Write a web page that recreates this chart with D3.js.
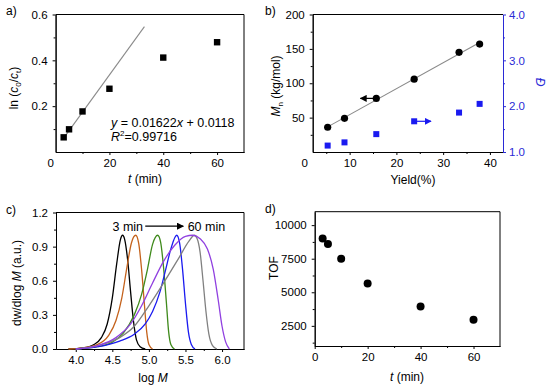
<!DOCTYPE html>
<html>
<head>
<meta charset="utf-8">
<script src="https://cdn.jsdelivr.net/npm/d3@7"></script>
<style>
  body { margin: 0; background: #fff; }
  svg { display: block; }
</style>
</head>
<body>
<script>
// ---- a) 动力学数据
var timeA = [3, 5, 10, 20, 40, 60]
var lnRatioA = [0.064, 0.099, 0.177, 0.276, 0.412, 0.479]
var fitSlopeA = 0.01622, fitInterceptA = 0.0118
var fitRangeA = [3, 33]

// ---- b) Mn / Đ vs yield
var yieldB = [5.3, 8.9, 15.7, 23.8, 33.4, 37.8]
var mnB = [36, 49, 78, 106, 145, 157]
var dispB = [1.14, 1.21, 1.39, 1.67, 1.86, 2.05]

// ---- c) GPC 曲线 [logM, dw/dlogM]
var gpcTimes = ['3 min', '5 min', '10 min', '20 min', '40 min', '60 min']
var gpcCurves = [
  [[3.9,0],[4.1,0.01],[4.25,0.04],[4.35,0.1],[4.43,0.22],[4.5,0.45],[4.56,0.75],[4.61,0.96],[4.64,1.0],[4.67,0.96],[4.71,0.78],[4.75,0.5],[4.79,0.24],[4.83,0.08],[4.88,0.02],[4.95,0]],
  [[3.9,0],[4.1,0.01],[4.3,0.04],[4.45,0.12],[4.55,0.25],[4.63,0.45],[4.7,0.72],[4.76,0.93],[4.82,1.0],[4.86,0.93],[4.9,0.7],[4.94,0.38],[4.97,0.15],[5.0,0.04],[5.05,0]],
  [[4.0,0],[4.3,0.02],[4.5,0.06],[4.65,0.14],[4.8,0.3],[4.9,0.48],[4.98,0.7],[5.05,0.92],[5.12,1.0],[5.16,0.94],[5.2,0.72],[5.24,0.4],[5.27,0.15],[5.3,0.04],[5.35,0]],
  [[4.0,0],[4.3,0.02],[4.6,0.07],[4.8,0.13],[4.95,0.22],[5.05,0.33],[5.15,0.5],[5.23,0.7],[5.3,0.88],[5.38,1.0],[5.42,0.93],[5.46,0.7],[5.5,0.4],[5.54,0.15],[5.58,0.04],[5.63,0]],
  [[4.0,0],[4.3,0.03],[4.6,0.1],[4.8,0.2],[5.0,0.38],[5.2,0.58],[5.4,0.79],[5.55,0.95],[5.62,1.0],[5.66,0.97],[5.7,0.85],[5.74,0.6],[5.78,0.33],[5.82,0.13],[5.87,0.03],[5.93,0]],
  [[4.0,0],[4.3,0.03],[4.55,0.1],[4.75,0.22],[4.9,0.38],[5.05,0.58],[5.2,0.77],[5.35,0.91],[5.5,0.99],[5.6,1.0],[5.7,0.97],[5.8,0.88],[5.88,0.7],[5.95,0.42],[6.0,0.2],[6.05,0.06],[6.1,0]]
]
var gpcColors = ['#000000', '#c4621c', '#3f8a1c', '#1a1af0', '#808080', '#9040e0']

// ---- d) TOF
var timeD = [3, 5, 10, 20, 40, 60]
var tofD = [9000, 8600, 7500, 5650, 3950, 2950]

var W = 550, H = 391
var FS = 12        // 标题字号
var TS = 11.5      // 刻度字号
var FONT = "'Liberation Sans', Arial, sans-serif"
var BLUE = '#2a2ad6'

var svg = d3.select('body').append('svg')
  .attr('width', W).attr('height', H)
  .style('font-family', FONT)

var defs = svg.append('defs')
function addArrow(id, color) {
  defs.append('marker')
    .attr('id', id).attr('viewBox', '0 0 10 10')
    .attr('refX', 9).attr('refY', 5)
    .attr('markerWidth', 7).attr('markerHeight', 7)
    .attr('markerUnits', 'userSpaceOnUse')
    .attr('orient', 'auto')
    .append('path').attr('d', 'M0,0 L10,5 L0,10 z').attr('fill', color)
}
addArrow('arrK', '#000')
addArrow('arrB', '#1a1af0')

// 坐标轴框
function styleAxis(sel, color) {
  sel.attr('font-size', TS).attr('font-family', FONT).attr('color', color || '#000')
  sel.selectAll('path, line').attr('stroke-width', 1)
}
function frame(x, y, o) {
  var g = svg.append('g')
  var x0 = x.range()[0], x1 = x.range()[1], yb = y.range()[0], yt = y.range()[1]
  g.append('g').attr('transform', 'translate(0,' + yb + ')')
    .call(d3.axisBottom(x).tickValues(o.xTicks).tickSize(3).tickPadding(4).tickSizeOuter(0).tickFormat(o.xFmt))
    .call(styleAxis)
  g.append('g').attr('transform', 'translate(0,' + yb + ')')
    .call(d3.axisBottom(x).tickValues(o.xMinor).tickSize(2).tickSizeOuter(0).tickFormat(''))
    .call(styleAxis)
  g.append('g').attr('transform', 'translate(' + x0 + ',0)')
    .call(d3.axisLeft(y).tickValues(o.yTicks).tickSize(3).tickPadding(5).tickSizeOuter(0).tickFormat(o.yFmt))
    .call(styleAxis)
  g.append('g').attr('transform', 'translate(' + x0 + ',0)')
    .call(d3.axisLeft(y).tickValues(o.yMinor).tickSize(2).tickSizeOuter(0).tickFormat(''))
    .call(styleAxis)
  g.append('line').attr('x1', x0).attr('x2', x1).attr('y1', yt).attr('y2', yt).attr('stroke', '#000')
  if (!o.noRight) {
    g.append('line').attr('x1', x1).attr('x2', x1).attr('y1', yt).attr('y2', yb).attr('stroke', '#000')
  }
  return g
}
function label(txt, x, y, anchor, size) {
  return svg.append('text').attr('x', x).attr('y', y).attr('font-size', size || FS)
    .attr('text-anchor', anchor || 'start').text(txt)
}
function vLabel(x, y, rot) {
  return svg.append('text').attr('transform', 'translate(' + x + ',' + y + ') rotate(' + rot + ')')
    .attr('text-anchor', 'middle').attr('dy', '0.35em').attr('font-size', FS)
}
function tLabel(x, y) {
  var t = svg.append('text').attr('x', x).attr('y', y).attr('text-anchor', 'middle').attr('font-size', FS)
  t.append('tspan').attr('font-style', 'italic').text('t')
  t.append('tspan').text(' (min)')
}

// ================= a)
var xA = d3.scaleLinear().domain([0, 70]).range([55.6, 244])
var yA = d3.scaleLinear().domain([0, 0.6]).range([152, 14.5])
frame(xA, yA, {
  xTicks: [20, 40, 60], xMinor: [10, 30, 50], xFmt: d3.format('d'),
  yTicks: [0.2, 0.4, 0.6], yMinor: [0.1, 0.3, 0.5], yFmt: d3.format('.1f')
})
label('0', xA(0) - 5, 167, 'middle', TS)
svg.append('line')
  .attr('x1', xA(fitRangeA[0])).attr('y1', yA(fitSlopeA * fitRangeA[0] + fitInterceptA))
  .attr('x2', xA(fitRangeA[1])).attr('y2', yA(fitSlopeA * fitRangeA[1] + fitInterceptA))
  .attr('stroke', '#8a8a8a').attr('stroke-width', 1.1)
svg.append('g').selectAll('rect').data(timeA).enter().append('rect')
  .attr('x', function(d) { return xA(d) - 3.2 })
  .attr('y', function(d, i) { return yA(lnRatioA[i]) - 3.2 })
  .attr('width', 6.4).attr('height', 6.4).attr('fill', '#000')
var eq = label('', xA(20.6), yA(0.107), 'start', 12.5)
eq.append('tspan').attr('font-style', 'italic').text('y')
eq.append('tspan').text(' = 0.01622')
eq.append('tspan').attr('font-style', 'italic').text('x')
eq.append('tspan').text(' + 0.0118')
var r2 = label('', xA(20.6), yA(0.046), 'start', 12.5)
r2.append('tspan').attr('font-style', 'italic').text('R')
r2.append('tspan').attr('font-size', 8).attr('dy', -5).text('2')
r2.append('tspan').attr('dy', 5).text('=0.99716')
tLabel(145, 183)
var lnL = vLabel(14, 88, -90)
lnL.append('tspan').text('ln (')
lnL.append('tspan').attr('font-style', 'italic').text('c')
lnL.append('tspan').attr('font-size', 8).attr('dy', 3).text('0')
lnL.append('tspan').attr('dy', -3).text('/')
lnL.append('tspan').attr('font-style', 'italic').text('c')
lnL.append('tspan').attr('font-size', 8).attr('dy', 3).text('t')
lnL.append('tspan').attr('dy', -3).text(')')
label('a)', 6, 15)

// ================= b)
var xB = d3.scaleLinear().domain([2.1, 42.8]).range([312.7, 503])
var yB = d3.scaleLinear().domain([0, 200]).range([152, 14.5])
var y2B = d3.scaleLinear().domain([1, 4]).range([152, 14.5])
frame(xB, yB, {
  xTicks: [10, 20, 30, 40], xMinor: [5, 15, 25, 35], xFmt: d3.format('d'),
  yTicks: [50, 100, 150, 200], yMinor: [25, 75, 125, 175], yFmt: d3.format('d'),
  noRight: true
})
label('0', xB(2.1) - 8, 167, 'middle', TS)
svg.append('g').attr('transform', 'translate(' + xB.range()[1] + ',0)')
  .call(d3.axisRight(y2B).tickValues([1, 2, 3, 4]).tickSize(3).tickPadding(3).tickSizeOuter(0).tickFormat(d3.format('.1f')))
  .call(styleAxis, BLUE)
svg.append('g').attr('transform', 'translate(' + xB.range()[1] + ',0)')
  .call(d3.axisRight(y2B).tickValues([1.5, 2.5, 3.5]).tickSize(2).tickSizeOuter(0).tickFormat(''))
  .call(styleAxis, BLUE)
// 线性拟合
var mx = d3.mean(yieldB), my = d3.mean(mnB)
var sxy = d3.sum(yieldB, function(d, i) { return (d - mx) * (mnB[i] - my) })
var sxx = d3.sum(yieldB, function(d) { return (d - mx) * (d - mx) })
var kB = sxy / sxx, bB = my - kB * mx
var xe = d3.extent(yieldB)
svg.append('line')
  .attr('x1', xB(xe[0])).attr('y1', yB(kB * xe[0] + bB))
  .attr('x2', xB(xe[1])).attr('y2', yB(kB * xe[1] + bB))
  .attr('stroke', '#8a8a8a').attr('stroke-width', 1.1)
svg.append('g').selectAll('circle').data(yieldB).enter().append('circle')
  .attr('cx', function(d) { return xB(d) })
  .attr('cy', function(d, i) { return yB(mnB[i]) })
  .attr('r', 3.6).attr('fill', '#000')
svg.append('g').selectAll('rect').data(yieldB).enter().append('rect')
  .attr('x', function(d) { return xB(d) - 3 })
  .attr('y', function(d, i) { return y2B(dispB[i]) - 3 })
  .attr('width', 6).attr('height', 6).attr('fill', '#1a1af0')
svg.append('line')
  .attr('x1', xB(15.5)).attr('x2', xB(12.3)).attr('y1', yB(78)).attr('y2', yB(78))
  .attr('stroke', '#000').attr('stroke-width', 1.2).attr('marker-end', 'url(#arrK)')
svg.append('line')
  .attr('x1', xB(23.5)).attr('x2', xB(27.4)).attr('y1', y2B(1.67)).attr('y2', y2B(1.67))
  .attr('stroke', '#1a1af0').attr('stroke-width', 1.2).attr('marker-end', 'url(#arrB)')
label('Yield(%)', 413, 184, 'middle')
var mnL = vLabel(276, 86, -90)
mnL.append('tspan').attr('font-style', 'italic').text('M')
mnL.append('tspan').attr('font-size', 8).attr('dy', 3).text('n')
mnL.append('tspan').attr('dy', -3).text(' (kg/mol)')
vLabel(540, 82, 90).attr('font-style', 'italic').attr('fill', BLUE).text('Đ')
label('b)', 265, 15)

// ================= c)
var xC = d3.scaleLinear().domain([3.73, 6.3]).range([56, 244])
var yC = d3.scaleLinear().domain([0, 1.2]).range([349, 212.5])
frame(xC, yC, {
  xTicks: [4, 4.5, 5, 5.5, 6], xMinor: [4.25, 4.75, 5.25, 5.75], xFmt: d3.format('.1f'),
  yTicks: [0, 0.3, 0.6, 0.9, 1.2], yMinor: [0.15, 0.45, 0.75, 1.05], yFmt: d3.format('.1f')
})
var gpcLine = d3.line()
  .x(function(d) { return xC(d[0]) })
  .y(function(d) { return yC(d[1]) })
  .curve(d3.curveMonotoneX)
svg.append('g').selectAll('path').data(gpcCurves).enter().append('path')
  .attr('d', gpcLine).attr('fill', 'none')
  .attr('stroke', function(d, i) { return gpcColors[i] })
  .attr('stroke-width', 1.3)
label(gpcTimes[0], xC(4.92), yC(1.04), 'end', 12.5)
label(gpcTimes[gpcTimes.length - 1], xC(5.53), yC(1.04), 'start', 12.5)
svg.append('line')
  .attr('x1', xC(4.95)).attr('x2', xC(5.47)).attr('y1', yC(1.08)).attr('y2', yC(1.08))
  .attr('stroke', '#000').attr('stroke-width', 1.2).attr('marker-end', 'url(#arrK)')
var lm = label('log ', 153, 382, 'middle')
lm.append('tspan').attr('font-style', 'italic').text('M')
var dwL = vLabel(17, 283, -90)
dwL.append('tspan').text('dw/dlog ')
dwL.append('tspan').attr('font-style', 'italic').text('M')
dwL.append('tspan').text(' (a.u.)')
label('c)', 6, 214)

// ================= d)
var xD = d3.scaleLinear().domain([0, 70]).range([314.7, 500])
var yD = d3.scaleLinear().domain([1000, 11000]).range([346, 211.7])
frame(xD, yD, {
  xTicks: [0, 20, 40, 60], xMinor: [10, 30, 50], xFmt: d3.format('d'),
  yTicks: [2500, 5000, 7500, 10000], yMinor: [1250, 3750, 6250, 8750], yFmt: d3.format('d')
})
svg.append('g').selectAll('circle').data(timeD).enter().append('circle')
  .attr('cx', function(d) { return xD(d) })
  .attr('cy', function(d, i) { return yD(tofD[i]) })
  .attr('r', 4).attr('fill', '#000')
tLabel(407, 381)
vLabel(274, 268, -90).text('TOF')
label('d)', 265, 213)
</script>
</body>
</html>
